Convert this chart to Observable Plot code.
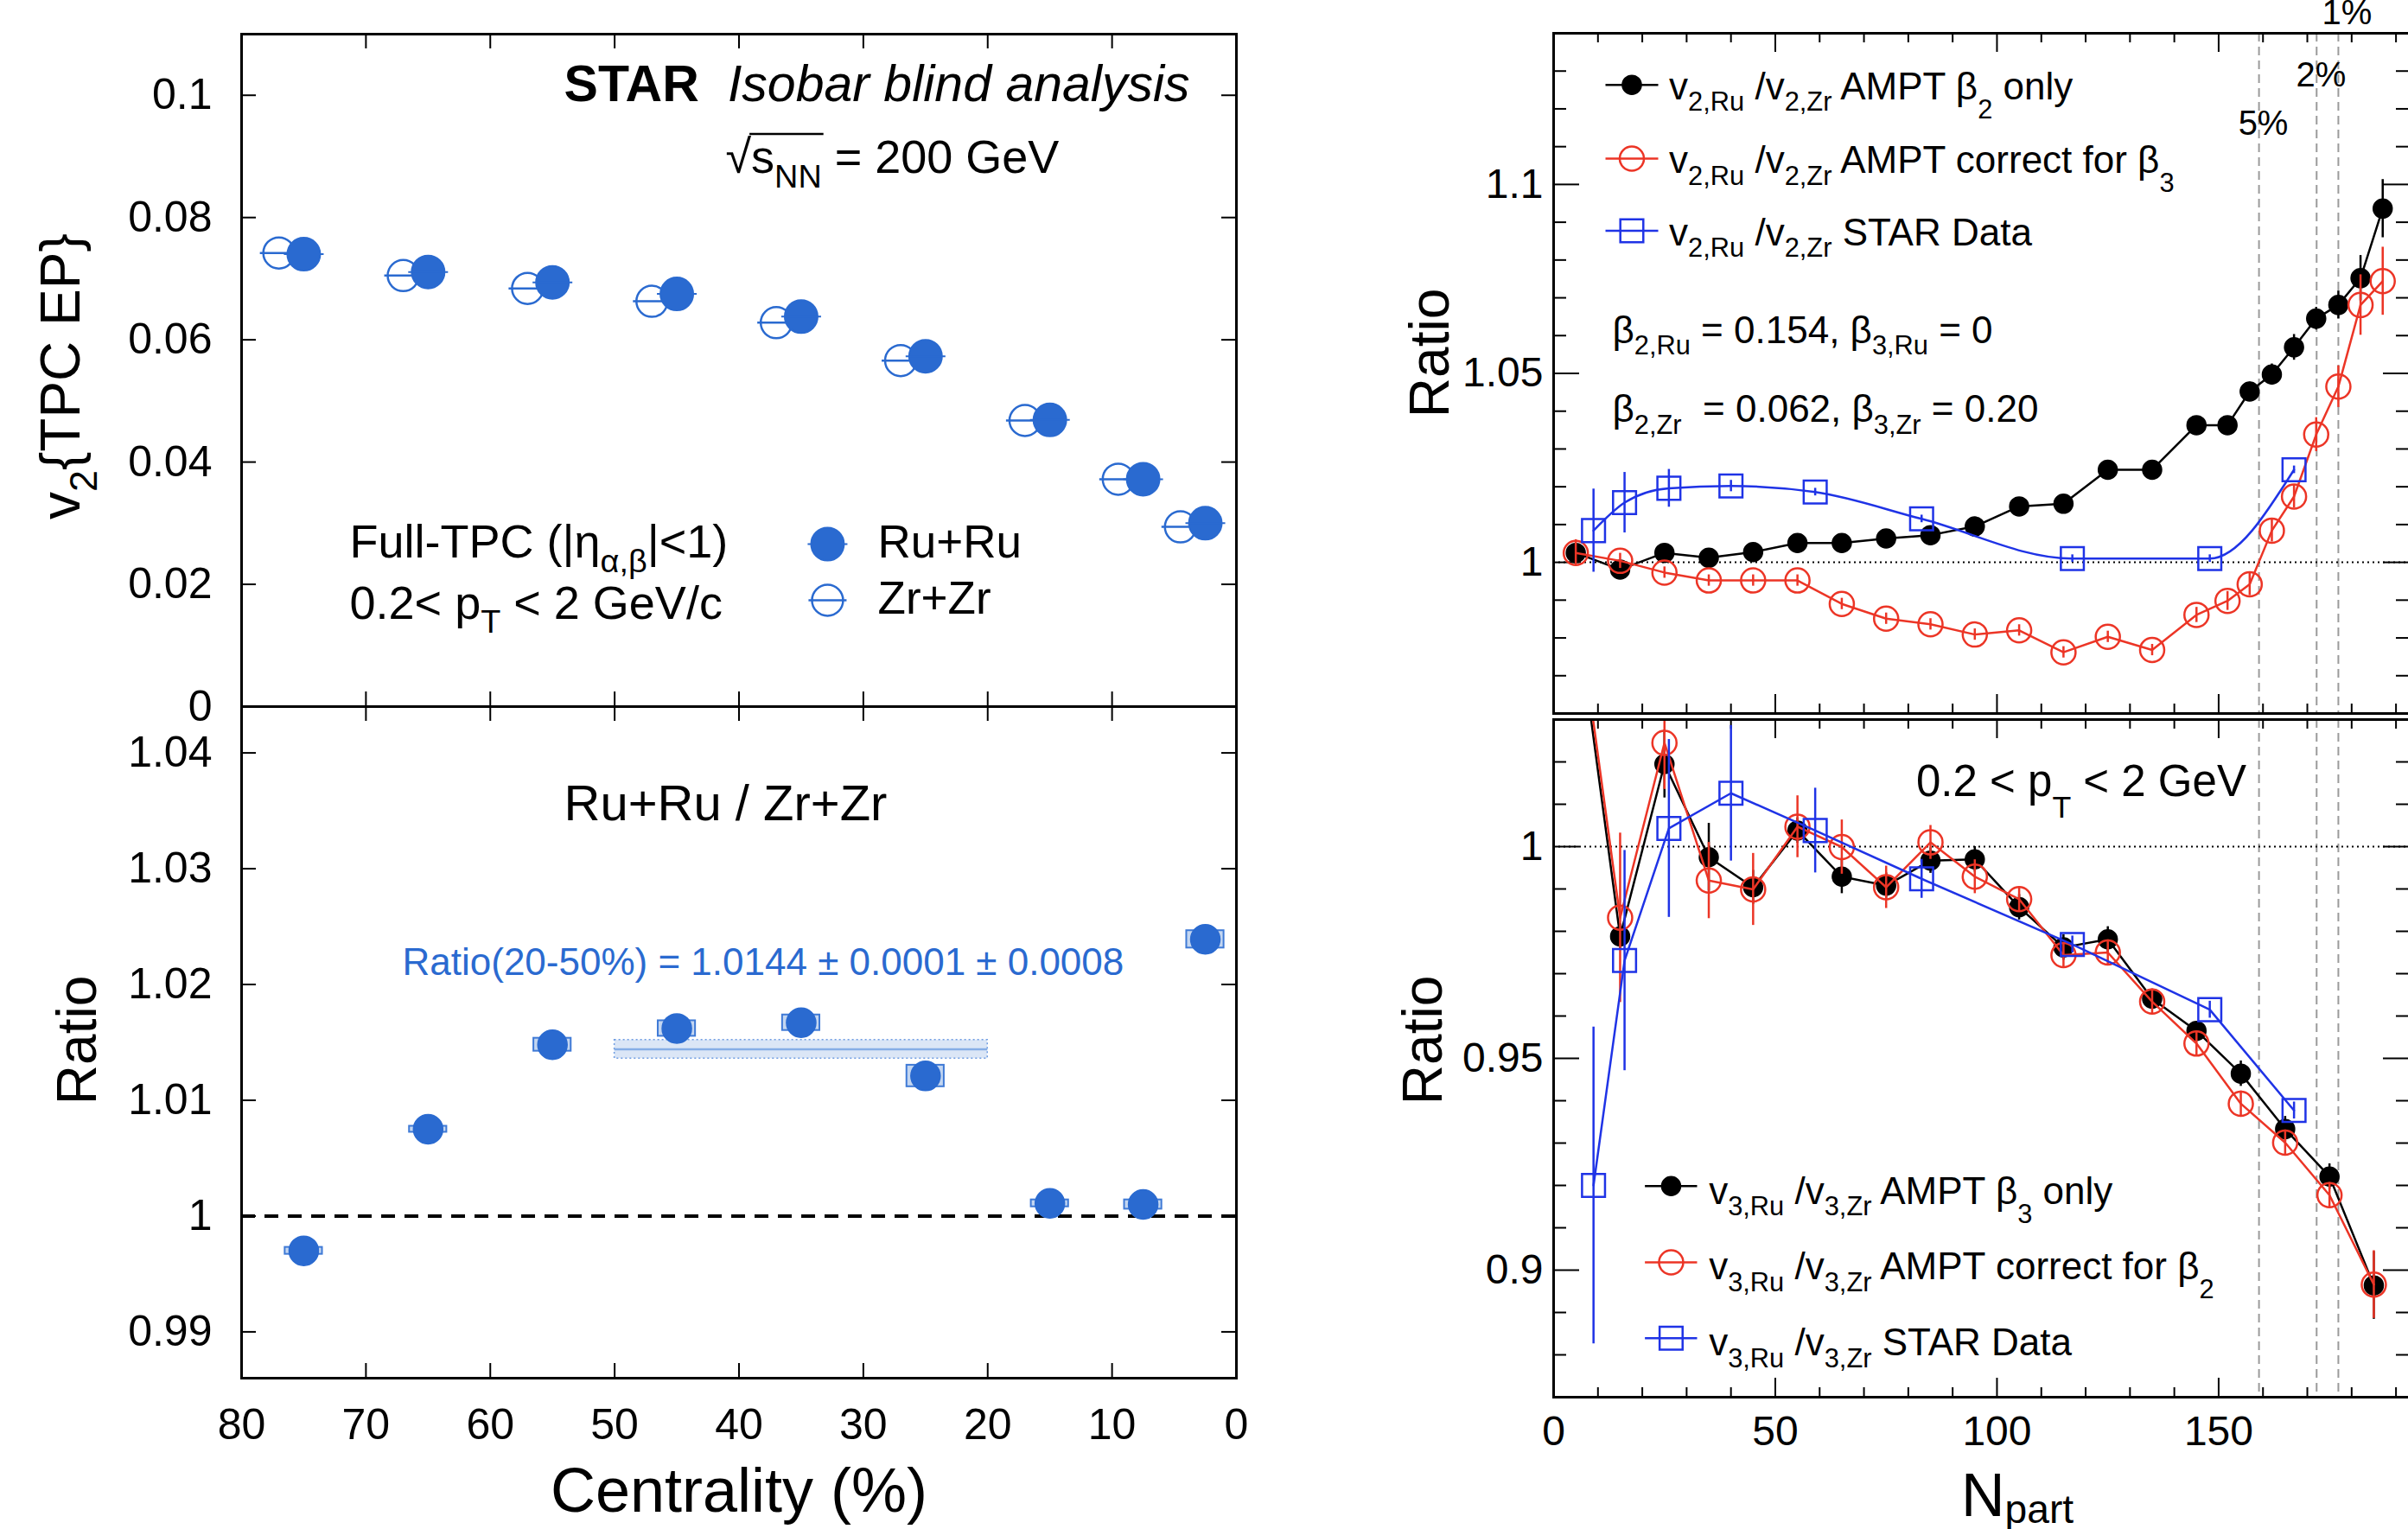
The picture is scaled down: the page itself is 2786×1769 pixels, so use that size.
<!DOCTYPE html>
<html><head><meta charset="utf-8">
<script src="https://cdn.jsdelivr.net/npm/d3@7"></script>
<script src="https://cdn.jsdelivr.net/npm/@observablehq/plot@0.6"></script>
<style>
html,body{margin:0;padding:0;background:#fff;}
#chart{position:relative;width:2786px;height:1769px;overflow:hidden;background:#fff;}
#chart svg{position:absolute;left:0;top:0;}
</style></head><body><div id="chart"></div><script>
// ================= DATA =================
// Left: v2{TPC EP} vs centrality (%)
const centRu = [75, 65, 55, 45, 35, 25, 15, 7.5, 2.5];
const centZr = [77, 67, 57, 47, 37, 27, 17, 9.5, 4.5];
const v2Ru = [0.0740, 0.0711, 0.0694, 0.0675, 0.0638, 0.0573, 0.0469, 0.0372, 0.0300];
const v2Zr = [0.0742, 0.0705, 0.0684, 0.0663, 0.0628, 0.0566, 0.0468, 0.0372, 0.0294];
// Left bottom: Ru+Ru / Zr+Zr ratio with systematic uncertainties
const ratioCent = [75, 65, 55, 45, 35, 25, 15, 7.5, 2.5];
const ratioVal = [0.9970, 1.0075, 1.0148, 1.0162, 1.0167, 1.0121, 1.0011, 1.0010, 1.0239];
const ratioSys = [0.0003, 0.00026, 0.00056, 0.00067, 0.00067, 0.00093, 0.0003, 0.0004, 0.00075];
const fitCent = [50, 20];
const fitValue = 1.0144;
const fitSys = 0.0008;

// Right top: v2 ratio vs Npart
const npartV2 = [5, 15, 25, 35, 45, 55, 65, 75, 85, 95, 105, 115, 125, 135, 145, 152, 157, 162, 167, 172, 177, 182, 187];
const v2AmptB2 = [1.0025, 0.9981, 1.0025, 1.0012, 1.0027, 1.0051, 1.0051, 1.0063, 1.0072, 1.0095, 1.0148, 1.0155, 1.0245, 1.0245, 1.0363, 1.0363, 1.0452, 1.0497, 1.0569, 1.0645, 1.0681, 1.0752, 1.0936];
const v2AmptB2Err = [0.0015, 0.001, 0.001, 0.001, 0.001, 0.001, 0.001, 0.001, 0.001, 0.001, 0.001, 0.0012, 0.0012, 0.0015, 0.0018, 0.002, 0.0025, 0.0028, 0.0034, 0.003, 0.0037, 0.006, 0.0077];
const v2AmptCorr = [1.0025, 1.0004, 0.9973, 0.9952, 0.9952, 0.9952, 0.9890, 0.9851, 0.9836, 0.9809, 0.9820, 0.9762, 0.9803, 0.9768, 0.9861, 0.9898, 0.9942, 1.0084, 1.0174, 1.0338, 1.0465, 1.0681, 1.0744];
const v2AmptCorrErr = [0.0035, 0.002, 0.0015, 0.0015, 0.0015, 0.0015, 0.0015, 0.0015, 0.0015, 0.0015, 0.0015, 0.0015, 0.0015, 0.0015, 0.002, 0.0025, 0.003, 0.003, 0.003, 0.0045, 0.0055, 0.008, 0.009];
const npartStar = [9, 16, 26, 40, 59, 83, 117, 148, 167];
const v2Star = [1.0084, 1.0158, 1.0196, 1.0202, 1.0186, 1.0115, 1.0010, 1.0010, 1.0245];
const v2StarErr = [0.011, 0.008, 0.005, 0.0015, 0.001, 0.001, 0.001, 0.001, 0.001];

// Right bottom: v3 ratio vs Npart
const npartV3 = [5, 15, 25, 35, 45, 55, 65, 75, 85, 95, 105, 115, 125, 135, 145, 155, 165, 175, 185];
const v3AmptB3 = [1.057, 0.9788, 1.0195, 0.9975, 0.9904, 1.0038, 0.9929, 0.9908, 0.9967, 0.9970, 0.9857, 0.9762, 0.9781, 0.9641, 0.9565, 0.9464, 0.9333, 0.9221, 0.8964];
const v3AmptB3Err = [0.005, 0.003, 0.008, 0.008, 0.004, 0.003, 0.004, 0.003, 0.003, 0.003, 0.003, 0.003, 0.003, 0.002, 0.002, 0.003, 0.003, 0.003, 0.008];
const v3AmptCorr = [1.06, 0.9832, 1.0245, 0.9920, 0.9899, 1.0047, 0.9999, 0.9904, 1.0010, 0.9929, 0.9876, 0.9744, 0.9750, 0.9634, 0.9535, 0.9393, 0.9301, 0.9177, 0.8966];
const v3AmptCorrErr = [0.005, 0.020, 0.011, 0.009, 0.0085, 0.0073, 0.0064, 0.005, 0.004, 0.004, 0.003, 0.003, 0.003, 0.003, 0.003, 0.003, 0.003, 0.003, 0.008];
const v3Star = [0.9200, 0.9731, 1.0043, 1.0126, 1.0038, 0.9924, 0.9769, 0.9615, 0.9377];
const v3StarErr = [0.0374, 0.026, 0.021, 0.016, 0.010, 0.0046, 0.002, 0.002, 0.002];

// Centrality markers on the Npart axis
const centralityNpart = [159.1, 172.1, 177.0];
const centralityText = ["5%", "2%", "1%"];

// Tick values
const leftXTicks = [80, 70, 60, 50, 40, 30, 20, 10, 0];
const leftTopYTicks = [0, 0.02, 0.04, 0.06, 0.08, 0.1];
const leftBotYTicks = [0.99, 1, 1.01, 1.02, 1.03, 1.04];
const rightXMajor = [0, 50, 100, 150];
const rightXMinor = [10, 20, 30, 40, 60, 70, 80, 90, 110, 120, 130, 140, 160, 170, 180, 190];
const rightTopYMajor = [1, 1.05, 1.1];
const rightTopYMinor = [0.97, 0.98, 0.99, 1.01, 1.02, 1.03, 1.04, 1.06, 1.07, 1.08, 1.09, 1.11, 1.12, 1.13];
const rightBotYMajor = [0.9, 0.95, 1];
const rightBotYMinor = [0.88, 0.89, 0.91, 0.92, 0.93, 0.94, 0.96, 0.97, 0.98, 0.99, 1.01, 1.02];

// Text content
const legendV2Labels = ["v_{2,Ru} /v_{2,Zr} AMPT β_d{2} only", "v_{2,Ru} /v_{2,Zr} AMPT correct for β_d{3}", "v_{2,Ru} /v_{2,Zr} STAR Data"];
const legendV3Labels = ["v_{3,Ru} /v_{3,Zr} AMPT β_d{3} only", "v_{3,Ru} /v_{3,Zr} AMPT correct for β_d{2}", "v_{3,Ru} /v_{3,Zr} STAR Data"];

// ================= LAYOUT / STYLE =================
const FONT = "'Liberation Sans', Arial, Helvetica, sans-serif";
const PAGE_W = 2786, PAGE_H = 1769, RIGHT_W = 2800;
const LT = {l: 279, r: 1430, t: 39, b: 817};
const LB = {l: 279, r: 1430, t: 817, b: 1594};
const RT = {l: 1797, r: 2787, t: 38, b: 825};
const RB = {l: 1797, r: 2787, t: 832, b: 1616};
const BLUE_L = "#2a6ad0", BOX_FILL = "#c3d6f1", BOX_STROKE = "#3f7ad6", BAND_FILL = "#dbe6f6", BAND_EDGE = "#6f9de2", BAND_LINE = "#86aee6";
const RED = "#ec3526", BLUE_R = "#1f33e6";
const SYS_HALF = 1.5; // half width of systematic boxes (centrality units)

const fmt = d => String(+d.toFixed(4));
const baseStyle = fs => ({fontFamily: FONT, fontSize: fs + "px", background: "transparent", overflow: "visible", maxWidth: "none", color: "black"});
function frameMargins(f, w) {
  return {width: w, height: PAGE_H, marginLeft: f.l, marginRight: w - f.r, marginTop: f.t, marginBottom: PAGE_H - f.b};
}
function edgeTicks(f, xs, ys, lenX, lenY, sw = 2) {
  const fw = f.r - f.l, fh = f.b - f.t;
  const o = {stroke: "black", strokeWidth: sw};
  return [
    Plot.ruleX(xs, {x: d => d, insetTop: fh - lenX, ...o}),
    Plot.ruleX(xs, {x: d => d, insetBottom: fh - lenX, ...o}),
    Plot.ruleY(ys, {y: d => d, insetRight: fw - lenY, ...o}),
    Plot.ruleY(ys, {y: d => d, insetLeft: fw - lenY, ...o})
  ];
}
const circleBar = ext => ({draw(ctx, size) {
  const r = Math.sqrt(size / Math.PI);
  ctx.moveTo(r, 0); ctx.arc(0, 0, r, 0, 2 * Math.PI);
  ctx.moveTo(-r - ext, 0); ctx.lineTo(r + ext, 0);
}});
const txt = (rows, opts) => Plot.text(rows, {x: "x", y: "y", text: "t", lineAnchor: "bottom", textAnchor: "start", fill: "black", ...opts});
const zip = (xs, ys, es) => xs.map((x, i) => ({x, y: ys[i], e: es ? es[i] : 0}));

// ================= LEFT TOP =================
const ruRows = zip(centRu, v2Ru), zrRows = zip(centZr, v2Zr);
const plotLT = Plot.plot({
  ...frameMargins(LT, PAGE_W), style: baseStyle(50),
  x: {domain: [80, 0], axis: null}, y: {domain: [0, 0.11]},
  marks: [
    ...edgeTicks(LT, leftXTicks, leftTopYTicks, 17, 17),
    Plot.axisY(leftTopYTicks, {anchor: "left", tickSize: 0, tickPadding: 34, tickFormat: fmt, fontSize: 50, label: null}),
    Plot.dot(zrRows, {x: "x", y: "y", r: 18, symbol: circleBar(4), fill: "none", stroke: BLUE_L, strokeWidth: 2.5}),
    Plot.dot(ruRows, {x: "x", y: "y", r: 19, symbol: circleBar(4), fill: BLUE_L, stroke: BLUE_L, strokeWidth: 2}),
    // legend
    Plot.dot([{x: 32.88, y: 0.02658}], {x: "x", y: "y", r: 19, symbol: circleBar(4), fill: BLUE_L, stroke: BLUE_L, strokeWidth: 2}),
    Plot.dot([{x: 32.88, y: 0.01739}], {x: "x", y: "y", r: 18, symbol: circleBar(4), fill: "none", stroke: BLUE_L, strokeWidth: 2.5}),
    txt([{x: 28.84, y: 0.02432, t: "Ru+Ru"}, {x: 28.84, y: 0.01513, t: "Zr+Zr"}], {fontSize: 53}),
    txt([{x: 54.07, y: 0.09904, t: "STAR"}], {fontSize: 59, fontWeight: "bold"}),
    txt([{x: 3.75, y: 0.09904, t: "Isobar blind analysis"}], {fontSize: 59, fontStyle: "italic", textAnchor: "end"}),
    txt([{x: 41.08, y: 0.08724, t: "√~{s_{NN}} = 200 GeV"}], {fontSize: 54}),
    txt([{x: 71.31, y: 0.02432, t: "Full-TPC (|η_{α,β}|<1)"}, {x: 71.31, y: 0.01435, t: "0.2< p_{T} < 2 GeV/c"}], {fontSize: 54}),
    txt([{x: 93, y: 0.054, t: "v_{2}{TPC EP}"}], {fontSize: 64, rotate: -90, textAnchor: "middle"}),
    Plot.frame({strokeWidth: 3})
  ]
});

// ================= LEFT BOTTOM =================
const ratioRows = ratioCent.map((x, i) => ({x, y: ratioVal[i], s: ratioSys[i]}));
const fitRows = [{x1: fitCent[0], x2: fitCent[1], y: fitValue, s: fitSys}];
const plotLB = Plot.plot({
  ...frameMargins(LB, PAGE_W), style: baseStyle(50),
  x: {domain: [80, 0]}, y: {domain: [0.986, 1.044]},
  marks: [
    ...edgeTicks(LB, leftXTicks, leftBotYTicks, 17, 17),
    Plot.axisY(leftBotYTicks, {anchor: "left", tickSize: 0, tickPadding: 34, tickFormat: fmt, fontSize: 50, label: null}),
    Plot.axisX(leftXTicks, {anchor: "bottom", tickSize: 0, tickPadding: 35, tickFormat: fmt, fontSize: 50, label: null}),
    Plot.ruleY([1], {stroke: "black", strokeWidth: 4, strokeDasharray: "16,11"}),
    Plot.rect(fitRows, {x1: "x1", x2: "x2", y1: d => d.y - d.s, y2: d => d.y + d.s, fill: BAND_FILL, stroke: BAND_EDGE, strokeWidth: 1.5, strokeDasharray: "2,3"}),
    Plot.ruleY(fitRows, {x1: "x1", x2: "x2", y: "y", stroke: BAND_LINE, strokeWidth: 2.5}),
    Plot.rect(ratioRows, {x1: d => d.x - SYS_HALF, x2: d => d.x + SYS_HALF, y1: d => d.y - d.s, y2: d => d.y + d.s, fill: BOX_FILL, stroke: BOX_STROKE, strokeWidth: 2}),
    Plot.dot(ratioRows, {x: "x", y: "y", r: 17, fill: BLUE_L, stroke: BLUE_L}),
    txt([{x: 54.07, y: 1.03422, t: "Ru+Ru / Zr+Zr"}], {fontSize: 58}),
    txt([{x: 67.07, y: 1.02082, t: "Ratio(20-50%) = 1.0144 ± 0.0001 ± 0.0008"}], {fontSize: 44, fill: BLUE_L}),
    txt([{x: 91.68, y: 1.01519, t: "Ratio"}], {fontSize: 64, rotate: -90, textAnchor: "middle"}),
    txt([{x: 40, y: 0.97443, t: "Centrality (%)"}], {fontSize: 72, textAnchor: "middle"}),
    Plot.frame({strokeWidth: 3})
  ]
});

// ================= RIGHT PANELS =================
const LEG_FS = 44;
function dotStyle(kind) {
  return kind === "b" ? {r: 11, fill: "black", stroke: "black"} :
         kind === "r" ? {r: 14, fill: "none", stroke: RED, strokeWidth: 2.5} :
                        {r: 15, symbol: "square", fill: "none", stroke: BLUE_R, strokeWidth: 2.5};
}
const colorOf = kind => kind === "b" ? "black" : kind === "r" ? RED : BLUE_R;
function seriesMarks(rows, kind) {
  const color = colorOf(kind);
  return [
    Plot.line(rows, {x: "x", y: "y", stroke: color, strokeWidth: 2.5, curve: rows.curve || "linear", clip: true}),
    Plot.ruleX(rows, {x: "x", y1: d => d.y - d.e, y2: d => d.y + d.e, stroke: color, strokeWidth: 2.5, clip: true}),
    Plot.dot(rows, {x: "x", y: "y", ...dotStyle(kind), clip: true})
  ];
}
function legendMarks(labels, L) {
  const kinds = ["b", "r", "s"];
  return labels.flatMap((lab, i) => {
    const k = kinds[i];
    const row = [{x1: L.x1, x2: L.x2, xm: L.xm, y: L.ym[i], xt: L.xt, yt: L.yt[i], t: lab}];
    return [
      Plot.link(row, {x1: "x1", x2: "x2", y1: "y", y2: "y", stroke: colorOf(k), strokeWidth: 2.5}),
      Plot.dot(row, {x: "xm", y: "y", ...dotStyle(k)}),
      Plot.text(row, {x: "xt", y: "yt", text: "t", textAnchor: "start", lineAnchor: "bottom", fontSize: LEG_FS, fill: "black"})
    ];
  });
}
const LEG_RT = {x1: 11.70, x2: 23.59, xm: 17.64, xt: 26.05, ym: [1.12635, 1.10684, 1.08774], yt: [1.12246, 1.10295, 1.08385]};
const LEG_RB = {x1: 20.59, x2: 32.36, xm: 26.5, xt: 35.03, ym: [0.91986, 0.90184, 0.88392], yt: [0.91571, 0.89776, 0.87980]};

const v2B = zip(npartV2, v2AmptB2, v2AmptB2Err);
const v2C = zip(npartV2, v2AmptCorr, v2AmptCorrErr);
const v2S = zip(npartStar, v2Star, v2StarErr); v2S.curve = "monotone-x";
const v3B = zip(npartV3, v3AmptB3, v3AmptB3Err);
const v3C = zip(npartV3, v3AmptCorr, v3AmptCorrErr);
const v3S = zip(npartStar, v3Star, v3StarErr);

const plotRT = Plot.plot({
  ...frameMargins(RT, RIGHT_W), style: baseStyle(48),
  x: {domain: [0, 193], axis: null}, y: {domain: [0.96, 1.14]},
  marks: [
    ...edgeTicks(RT, rightXMajor, rightTopYMajor, 22, 30),
    ...edgeTicks(RT, rightXMinor, rightTopYMinor, 11, 15),
    Plot.axisY(rightTopYMajor, {anchor: "left", tickSize: 0, tickPadding: 12, tickFormat: fmt, fontSize: 48, label: null}),
    Plot.ruleX(centralityNpart, {x: d => d, stroke: "#9a9a9a", strokeWidth: 2, strokeDasharray: "10,6"}),
    Plot.ruleY([1], {stroke: "black", strokeWidth: 2, strokeDasharray: "2,4"}),
    ...seriesMarks(v2B, "b"), ...seriesMarks(v2C, "r"), ...seriesMarks(v2S, "s"),
    ...legendMarks(legendV2Labels, LEG_RT),
    txt([{x: 13.26, y: 1.0581, t: "β_{2,Ru} = 0.154, β_{3,Ru} = 0"}, {x: 13.26, y: 1.0371, t: "β_{2,Zr}  = 0.062, β_{3,Zr} = 0.20"}], {fontSize: 44}),
    txt(centralityText.map((t, i) => ({t, x: [160.06, 173.1, 178.96][i], y: [1.1132, 1.1260, 1.1425][i]})), {fontSize: 40, textAnchor: "middle"}),
    txt([{x: -23.59, y: 1.05538, t: "Ratio"}], {fontSize: 64, rotate: -90, textAnchor: "middle"}),
    Plot.frame({strokeWidth: 3})
  ]
});

const plotRB = Plot.plot({
  ...frameMargins(RB, RIGHT_W), style: baseStyle(48),
  x: {domain: [0, 193]}, y: {domain: [0.87, 1.03]},
  marks: [
    ...edgeTicks(RB, rightXMajor, rightBotYMajor, 22, 30),
    ...edgeTicks(RB, rightXMinor, rightBotYMinor, 11, 15),
    Plot.axisY(rightBotYMajor, {anchor: "left", tickSize: 0, tickPadding: 12, tickFormat: fmt, fontSize: 48, label: null}),
    Plot.axisX(rightXMajor, {anchor: "bottom", tickSize: 0, tickPadding: 21, tickFormat: fmt, fontSize: 48, label: null}),
    Plot.ruleX(centralityNpart, {x: d => d, stroke: "#9a9a9a", strokeWidth: 2, strokeDasharray: "10,6"}),
    Plot.ruleY([1], {stroke: "black", strokeWidth: 2, strokeDasharray: "2,4"}),
    ...seriesMarks(v3B, "b"), ...seriesMarks(v3C, "r"), ...seriesMarks(v3S, "s"),
    ...legendMarks(legendV3Labels, LEG_RB),
    txt([{x: 81.78, y: 1.0120, t: "0.2 < p_d{T} < 2 GeV"}], {fontSize: 51}),
    txt([{x: -25.15, y: 0.95429, t: "Ratio"}], {fontSize: 64, rotate: -90, textAnchor: "middle"}),
    txt([{x: 104.6, y: 0.8420, t: "N_s{part}"}], {fontSize: 70, textAnchor: "middle"}),
    Plot.frame({strokeWidth: 3})
  ]
});

// ================= RENDER + RICH TEXT =================
const chart = document.getElementById("chart");
[plotLT, plotLB, plotRT, plotRB].forEach(p => chart.appendChild(p));

const NS = "http://www.w3.org/2000/svg";
const SUB = {normal: {dy: 0.3, k: 0.7}, deep: {dy: 0.5, k: 0.7}, shallow: {dy: 0.12, k: 0.66}};
function parseMarkup(s) {
  const segs = [];
  let buf = "", sub = null, over = false;
  const push = () => { if (buf) segs.push({text: buf, sub, over}); buf = ""; };
  for (let i = 0; i < s.length;) {
    const m = /^_([ds]?)\{/.exec(s.slice(i));
    if (m && !sub) { push(); sub = m[1] === "d" ? "deep" : m[1] === "s" ? "shallow" : "normal"; i += m[0].length; continue; }
    if (s.startsWith("~{", i) && !over) { push(); over = true; i += 2; continue; }
    if (s[i] === "}" && (sub || over)) { push(); if (sub) sub = null; else over = false; i++; continue; }
    buf += s[i]; i++;
  }
  push();
  return segs;
}
chart.querySelectorAll("text").forEach(t => {
  const src = t.textContent;
  if (!/[_~]([ds]?)\{/.test(src)) return;
  const fs = parseFloat(getComputedStyle(t).fontSize);
  const segs = parseMarkup(src);
  while (t.firstChild) t.removeChild(t.firstChild);
  let shift = 0;
  for (const sg of segs) {
    const ts = document.createElementNS(NS, "tspan");
    const target = sg.sub ? SUB[sg.sub].dy * fs : 0;
    if (target !== shift) ts.setAttribute("dy", (target - shift).toFixed(2));
    shift = target;
    if (sg.sub) ts.setAttribute("font-size", (SUB[sg.sub].k * fs).toFixed(2));
    if (sg.over) ts.setAttribute("data-over", "1");
    ts.textContent = sg.text;
    t.appendChild(ts);
  }
  // overline for square-root groups
  let idx = 0, start = -1, end = -1;
  t.childNodes.forEach(ts => {
    const n = ts.textContent.length;
    if (ts.getAttribute && ts.getAttribute("data-over")) { if (start < 0) start = idx; end = idx + n - 1; }
    idx += n;
  });
  if (start > 0) {
    const rad = t.getExtentOfChar(start - 1), b = t.getExtentOfChar(end);
    const p = t.getStartPositionOfChar(start);
    const line = document.createElementNS(NS, "line");
    const y = p.y - 0.84 * fs;
    line.setAttribute("x1", rad.x + rad.width - 2);
    line.setAttribute("x2", b.x + b.width + 2);
    line.setAttribute("y1", y); line.setAttribute("y2", y);
    line.setAttribute("stroke", "black"); line.setAttribute("stroke-width", "2.5");
    if (t.getAttribute("transform")) line.setAttribute("transform", t.getAttribute("transform"));
    t.parentNode.appendChild(line);
  }
});
</script></body></html>
